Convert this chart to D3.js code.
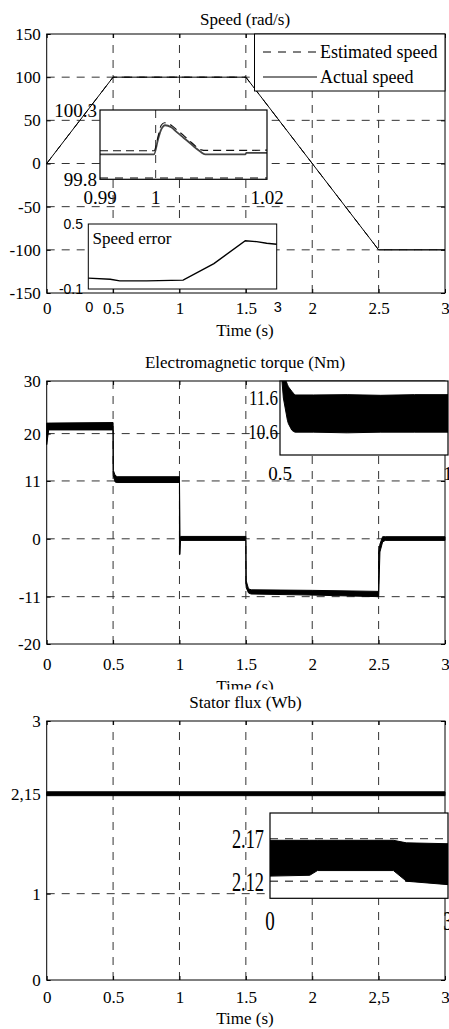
<!DOCTYPE html>
<html><head><meta charset="utf-8">
<script src="https://cdn.jsdelivr.net/npm/d3@7"></script>
<style>
body{margin:0;background:#fff}
svg{display:block}
text{font-family:"Liberation Serif","Times New Roman",serif;fill:#000}
</style>
</head><body>
<svg id="c" width="449" height="1029"></svg>
<script>
// ---------------- DATA ----------------
const timeTicks = [0, 0.5, 1, 1.5, 2, 2.5, 3];
const timeTickLabels = ["0", "0.5", "1", "1.5", "2", "2.5", "3"];
const fluxTimeTickLabels = ["0", "0.5", "1", "1.5", "2", "2,5", "3"];
const timeGrid = [0.5, 1, 1.5, 2, 2.5];

// Speed panel
const speedTime = [0, 0.5, 1.5, 2.5, 3];
const actualSpeed = [0, 100, 100, -100, -100];
const estimatedSpeed = [0, 100, 100, -100, -100];
const speedTicks = [150, 100, 50, 0, -50, -100, -150];
const speedTickLabels = ["150", "100", "50", "0", "-50", "-100", "-150"];
const speedGrid = [100, 50, 0, -50, -100];
const legendLabels = ["Estimated speed", "Actual speed"];

// Speed zoom inset (around t = 1 s)
const zoomActualTime = [0.99, 0.9997, 1.0004, 1.0010, 1.0017, 1.0028, 1.0038, 1.0050, 1.0062, 1.0072, 1.0080, 1.0089, 1.0161, 1.0163, 1.02];
const zoomActual =     [99.98, 99.98, 100.084, 100.16, 100.19, 100.175, 100.14, 100.10, 100.06, 100.025, 100.0, 99.98, 99.98, 99.99, 99.99];
const zoomEstTime = [0.99, 0.9997, 1.0005, 1.0010, 1.0016, 1.0028, 1.0040, 1.0052, 1.0063, 1.0073, 1.0082, 1.0090, 1.02];
const zoomEstimated = [100.006, 100.006, 100.12, 100.19, 100.208, 100.19, 100.15, 100.11, 100.07, 100.035, 100.012, 100.008, 100.01];
const zoomTicksX = [0.99, 1, 1.02];
const zoomTickLabelsX = ["0.99", "1", "1.02"];
const zoomTicksY = [100.3, 99.8];
const zoomTickLabelsY = ["100.3", "99.8"];
const zoomGridX = [1];
const zoomGridY = [99.81];

// Speed error inset
const errTime =  [0, 0.35, 0.5, 0.93, 1.51, 2.0, 2.5, 2.68, 2.84, 3];
const errValue = [0, -0.01, -0.025, -0.025, -0.018, 0.135, 0.345, 0.337, 0.322, 0.313];
const errTicksX = [0, 3];
const errTickLabelsX = ["0", "3"];
const errTicksY = [0.5, -0.1];
const errTickLabelsY = ["0.5", "-0.1"];

// Torque panel (ripple band: upper / lower envelope)
const torqueTime =  [0, 0, 0.015, 0.5, 0.5, 0.502, 0.515, 0.53, 1.0, 1.0, 1.004, 1.008, 1.5, 1.5, 1.503, 1.52, 1.54, 2.0, 2.5, 2.5, 2.51, 2.53, 2.55, 3];
const torqueUpper = [18, 22, 22, 22.1, 22.1, 13, 12.1, 11.8, 11.8, 11.8, 0.5, 0.45, 0.45, 0.45, -8.0, -9.5, -9.7, -9.8, -10.0, -2.7, -1.0, 0.4, 0.4, 0.4];
const torqueLower = [17.9, 17.9, 20.7, 20.7, 13, 12, 10.8, 10.7, 10.7, -3, -3, -0.3, -0.3, -8.5, -9.3, -10.3, -10.5, -10.7, -11.0, -11.0, -2.5, -0.6, -0.3, -0.3];
const torqueTicks = [30, 20, 11, 0, -11, -20];
const torqueTickLabels = ["30", "20", "11", "0", "-11", "-20"];
const torqueGrid = [20, 11, 0, -11];

// Torque zoom inset (0.5 .. 1 s)
const tzTime =  [0.5, 0.505, 0.51, 0.522, 0.525, 0.535, 0.54, 0.545, 0.6, 0.7, 0.8, 0.9, 1.0];
const tzUpper = [14, 14, 12.3, 12.0, 11.93, 11.8, 11.74, 11.69, 11.69, 11.7, 11.68, 11.7, 11.7];
const tzLower = [14, 12.2, 11.6, 10.95, 10.85, 10.66, 10.62, 10.6, 10.6, 10.58, 10.6, 10.6, 10.6];
const tzTicksY = [11.6, 10.6];
const tzTickLabelsY = ["11.6", "10.6"];
const tzTicksX = [0.5, 1];
const tzTickLabelsX = ["0.5", "1"];

// Flux panel
const fluxTime = [0, 1, 2, 3];
const fluxUpper = [2.18, 2.18, 2.18, 2.18];
const fluxLower = [2.135, 2.135, 2.135, 2.135];
const fluxTicks = [3, 2.15, 1, 0];
const fluxTickLabels = ["3", "2,15", "1", "0"];
const fluxGrid = [2.15, 1];

// Flux zoom inset
const fzTime =  [0, 0.67, 0.8, 2.08, 2.3, 3];
const fzUpper = [2.168, 2.168, 2.168, 2.168, 2.165, 2.164];
const fzLower = [2.126, 2.127, 2.1325, 2.1325, 2.12, 2.116];
const fzTicksY = [2.17, 2.12];
const fzTickLabelsY = ["2.17", "2.12"];
const fzTicksX = [0, 3];
const fzTickLabelsX = ["0", "3"];
const fzGrid = [2.17, 2.12];

// ---------------- DRAWING ----------------
const svg = d3.select("#c");
svg.append("rect").attr("width", 449).attr("height", 1029).attr("fill", "#fff");
const SERIF = "'Liberation Serif','Times New Roman',serif";
const SANS = "'Liberation Sans',Arial,sans-serif";
const DASH = "8,7";
const GRID = "#333";

const x = d3.scaleLinear().domain([0, 3]).range([46.7, 445]);
const ySpeed = d3.scaleLinear().domain([-150, 150]).range([293, 34]);
const yTorque = d3.scaleLinear().domain([-20, 30]).range([644, 381]);
const yFlux = d3.scaleLinear().domain([0, 3]).range([980, 721]);

function txt(g, s, px, py, size, anchor, sx, sy, fam) {
  return g.append("text").text(s)
    .attr("transform", `translate(${px},${py}) scale(${sx || 1},${sy || 1})`)
    .attr("text-anchor", anchor || "middle")
    .style("font-size", size + "px")
    .style("font-family", fam || SERIF);
}

function panel(y, ticks, labels, grid, xLabels, xPad) {
  const g = svg.append("g");
  g.selectAll(null).data(grid).join("line")
    .attr("x1", x(0)).attr("x2", x(3))
    .attr("y1", d => y(d)).attr("y2", d => y(d))
    .attr("stroke", GRID).attr("stroke-dasharray", DASH);
  g.selectAll(null).data(timeGrid).join("line")
    .attr("x1", d => x(d)).attr("x2", d => x(d))
    .attr("y1", y.range()[0]).attr("y2", y.range()[1])
    .attr("stroke", GRID).attr("stroke-dasharray", DASH);
  return {
    g,
    finish() {
      const top = y.range()[1], bot = y.range()[0];
      const style = a => a.attr("font-family", SERIF).attr("font-size", 17)
        .call(s => s.select(".domain").remove())
        .call(s => s.selectAll("line").attr("stroke", "#000"));
      svg.append("g").attr("transform", `translate(${x(0)},0)`)
        .call(d3.axisLeft(y).tickValues(ticks).tickFormat((d, i) => labels[i]).tickSize(-4).tickPadding(6)).call(style);
      svg.append("g").attr("transform", `translate(${x(3)},0)`)
        .call(d3.axisRight(y).tickValues(ticks).tickFormat("").tickSize(-4)).call(style);
      svg.append("g").attr("transform", `translate(0,${bot})`)
        .call(d3.axisBottom(x).tickValues(timeTicks).tickFormat((d, i) => xLabels[i]).tickSize(-4).tickPadding(xPad)).call(style);
      svg.append("g").attr("transform", `translate(0,${top})`)
        .call(d3.axisTop(x).tickValues(timeTicks).tickFormat("").tickSize(-4)).call(style);
      svg.append("rect").attr("x", x(0)).attr("y", top).attr("width", x(3) - x(0)).attr("height", bot - top)
        .attr("fill", "none").attr("stroke", "#000").attr("stroke-width", 1);
    }
  };
}

function band(g, xs, ys, T, U, L, clip) {
  const idx = d3.range(T.length);
  const a = d3.area().x(i => xs(T[i])).y0(i => ys(L[i])).y1(i => ys(U[i]));
  const p = g.append("path").datum(idx).attr("d", a)
    .attr("fill", "#000").attr("stroke", "#000").attr("stroke-width", 1).attr("stroke-linejoin", "round");
  if (clip) p.attr("clip-path", `url(#${clip})`);
  return p;
}

function clipRect(id, x0, y0, w, h) {
  svg.append("clipPath").attr("id", id).append("rect").attr("x", x0).attr("y", y0).attr("width", w).attr("height", h);
}

// ===== Speed panel =====
txt(svg, "Speed (rad/s)", 245, 25, 17);
const sp = panel(ySpeed, speedTicks, speedTickLabels, speedGrid, timeTickLabels, 9);
const sLine = d3.line().x((d, i) => x(speedTime[i])).y(d => ySpeed(d));
sp.g.append("path").datum(actualSpeed).attr("d", sLine).attr("fill", "none").attr("stroke", "#000").attr("stroke-width", 1);
sp.g.append("path").datum(estimatedSpeed).attr("d", sLine).attr("fill", "none").attr("stroke", "#000").attr("stroke-width", 1).attr("stroke-dasharray", DASH);
sp.finish();
txt(svg, "Time (s)", 245, 336, 17);

// legend
const lg = svg.append("g");
lg.append("rect").attr("x", 254.5).attr("y", 34).attr("width", 445 - 254.5).attr("height", 57)
  .attr("fill", "#fff").attr("stroke", "#000");
const legY = [52, 77];
lg.selectAll(null).data(legendLabels).join("line")
  .attr("x1", 263).attr("x2", 317).attr("y1", (d, i) => legY[i]).attr("y2", (d, i) => legY[i])
  .attr("stroke", "#000").attr("stroke-dasharray", (d, i) => i === 0 ? DASH : null);
legendLabels.forEach((s, i) => txt(lg, s, 320, legY[i] + 6, 18, "start"));

// speed zoom inset
{
  const zx = d3.scaleLinear().domain([0.99, 1.02]).range([100, 267]);
  const zy = d3.scaleLinear().domain([99.8, 100.3]).range([179.3, 110]);
  const g = svg.append("g");
  clipRect("clipZ1", 100, 110, 167, 69.3);
  g.append("rect").attr("x", 100).attr("y", 110).attr("width", 167).attr("height", 69.3).attr("fill", "#fff");
  g.selectAll(null).data(zoomGridX).join("line")
    .attr("x1", d => zx(d)).attr("x2", d => zx(d)).attr("y1", 110).attr("y2", 179.3)
    .attr("stroke", GRID).attr("stroke-dasharray", DASH);
  g.selectAll(null).data(zoomGridY).join("line")
    .attr("x1", 100).attr("x2", 267).attr("y1", d => zy(d)).attr("y2", d => zy(d))
    .attr("stroke", "#555").attr("stroke-width", 1.5).attr("stroke-dasharray", DASH);
  const la = d3.line().x((d, i) => zx(zoomActualTime[i])).y(d => zy(d)).curve(d3.curveMonotoneX);
  const le = d3.line().x((d, i) => zx(zoomEstTime[i])).y(d => zy(d)).curve(d3.curveMonotoneX);
  g.append("path").datum(zoomActual).attr("d", la).attr("fill", "none").attr("stroke", "#444").attr("stroke-width", 1.8).attr("clip-path", "url(#clipZ1)");
  g.append("path").datum(zoomEstimated).attr("d", le).attr("fill", "none").attr("stroke", "#111").attr("stroke-width", 1.2).attr("stroke-dasharray", "8,5").attr("clip-path", "url(#clipZ1)");
  g.append("rect").attr("x", 100).attr("y", 110).attr("width", 167).attr("height", 69.3).attr("fill", "none").attr("stroke", "#000").attr("stroke-width", 1.2);
  zoomTicksY.forEach((v, i) => txt(g, zoomTickLabelsY[i], 97, zy(v) + 6.5, 19, "end"));
  zoomTicksX.forEach((v, i) => txt(g, zoomTickLabelsX[i], zx(v), 204, 19, "middle"));
}

// speed error inset
{
  const ex = d3.scaleLinear().domain([0, 3]).range([88.3, 276.7]);
  const ey = d3.scaleLinear().domain([-0.1, 0.5]).range([289, 224]);
  const g = svg.append("g");
  g.append("rect").attr("x", 88.3).attr("y", 224).attr("width", 188.4).attr("height", 65).attr("fill", "#fff").attr("stroke", "#000");
  const l = d3.line().x((d, i) => ex(errTime[i])).y(d => ey(d));
  g.append("path").datum(errValue).attr("d", l).attr("fill", "none").attr("stroke", "#000").attr("stroke-width", 1.4);
  txt(g, "Speed error", 92.5, 243.5, 17, "start");
  errTicksY.forEach((v, i) => txt(g, errTickLabelsY[i], 83, ey(v) + 5, 14, "end", 1, 1, SANS));
  errTicksX.forEach((v, i) => txt(g, errTickLabelsX[i], ex(v) + 1, 312, 14.5, "middle", 1, 1, SANS));
}

// ===== Torque panel =====
txt(svg, "Electromagnetic torque (Nm)", 245, 367.5, 17);
const tp = panel(yTorque, torqueTicks, torqueTickLabels, torqueGrid, timeTickLabels, 14);
band(tp.g, x, yTorque, torqueTime, torqueUpper, torqueLower);
tp.finish();
txt(svg, "Time (s)", 245, 691.5, 17);

// torque zoom inset
{
  const zx = d3.scaleLinear().domain([0.5, 1]).range([280, 448]);
  const zy = d3.scaleLinear().domain([9.93, 12.1]).range([455, 381]);
  const g = svg.append("g");
  clipRect("clipTZ", 280, 381, 168, 74);
  g.append("rect").attr("x", 280).attr("y", 381).attr("width", 168).attr("height", 74).attr("fill", "#fff");
  band(g, zx, zy, tzTime, tzUpper, tzLower, "clipTZ");
  g.append("rect").attr("x", 280).attr("y", 381).attr("width", 168).attr("height", 74).attr("fill", "none").attr("stroke", "#000").attr("stroke-width", 1.2);
  tzTicksY.forEach((v, i) => txt(g, tzTickLabelsY[i], 278, zy(v) + 7, 20, "end", 0.85, 1));
  tzTicksX.forEach((v, i) => txt(g, tzTickLabelsX[i], zx(v), 479.5, 19, "middle"));
}

// white cover: flux figure area overlapping the torque x-label
svg.append("rect").attr("x", 0).attr("y", 689.5).attr("width", 449).attr("height", 30).attr("fill", "#fff");

// ===== Flux panel =====
txt(svg, "Stator flux (Wb)", 245.5, 707.5, 17);
const fp = panel(yFlux, fluxTicks, fluxTickLabels, fluxGrid, fluxTimeTickLabels, 11);
band(fp.g, x, yFlux, fluxTime, fluxUpper, fluxLower);
fp.finish();
txt(svg, "Time (s)", 245, 1024, 17);

// flux zoom inset
{
  const zx = d3.scaleLinear().domain([0, 3]).range([270, 448]);
  const zy = d3.scaleLinear().domain([2.10, 2.20]).range([898.3, 813]);
  const g = svg.append("g");
  clipRect("clipFZ", 270, 813, 178, 85.3);
  g.append("rect").attr("x", 270).attr("y", 813).attr("width", 178).attr("height", 85.3).attr("fill", "#fff");
  g.selectAll(null).data(fzGrid).join("line")
    .attr("x1", 270).attr("x2", 448).attr("y1", d => zy(d)).attr("y2", d => zy(d))
    .attr("stroke", "#555").attr("stroke-width", 1.3).attr("stroke-dasharray", DASH);
  band(g, zx, zy, fzTime, fzUpper, fzLower, "clipFZ");
  g.append("rect").attr("x", 270).attr("y", 813).attr("width", 178).attr("height", 85.3).attr("fill", "none").attr("stroke", "#000").attr("stroke-width", 1.2);
  fzTicksY.forEach((v, i) => txt(g, fzTickLabelsY[i], 264, zy(v) + 9.5, 27, "end", 0.68, 1));
  fzTicksX.forEach((v, i) => txt(g, fzTickLabelsX[i], zx(v), 930, 28, "middle", 0.68, 1));
}
</script>
</body></html>
